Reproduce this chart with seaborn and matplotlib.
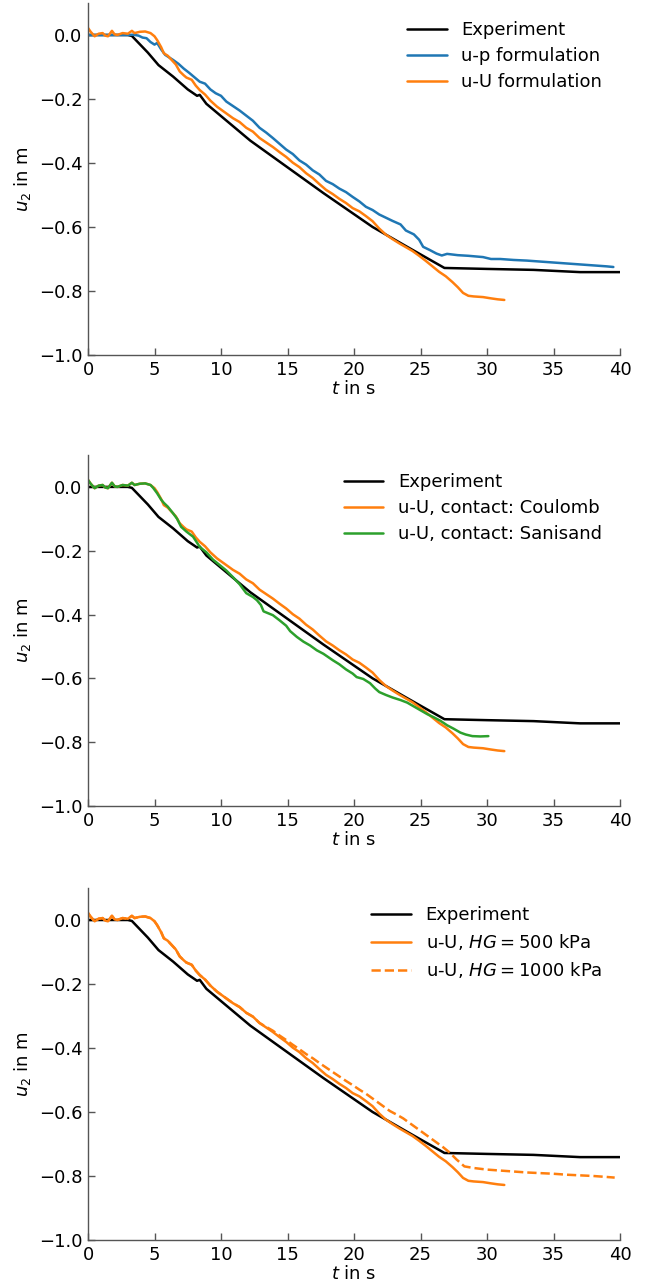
import matplotlib
matplotlib.use("Agg")
import matplotlib.pyplot as plt
import seaborn as sns
import pandas as pd

# ---------------- data ----------------
exp_t = [0.0, 3.0, 3.3, 4.5, 5.3, 6.4, 7.5, 8.2, 8.4, 8.9, 12.2, 17.7, 21.4, 24.0, 26.8, 30.0, 33.5, 37.0, 40.0]
exp_u = [0.0, 0.0, -0.003, -0.055, -0.094, -0.13, -0.17, -0.19, -0.187, -0.215, -0.33, -0.494, -0.60,
         -0.662, -0.728, -0.731, -0.734, -0.741, -0.741]

up_t = [0.0, 1.0, 2.0, 3.0, 3.4, 3.8, 4.1, 4.4, 4.7, 5.0, 5.2, 5.5, 5.8, 6.1, 6.4, 6.8, 7.2, 7.6, 8.0, 8.4,
        8.8, 9.2, 9.6, 10.0, 10.4, 10.9, 11.4, 11.9, 12.4, 12.9, 13.4, 13.9, 14.4, 14.9, 15.4, 15.9, 16.4,
        16.9, 17.4, 17.9, 18.4, 18.9, 19.4, 19.9, 20.4, 20.9, 21.4, 21.9, 22.4, 22.9, 23.5, 23.9, 24.5,
        24.9, 25.2, 25.7, 26.2, 26.6, 27.0, 27.8, 28.6, 29.7, 30.3, 31.0, 32.0, 33.0, 34.0, 35.0, 36.0,
        37.0, 38.0, 39.0, 39.5]
up_u = [0.0, 0.0, 0.0, 0.0, 0.001, -0.002, -0.008, -0.010, -0.022, -0.030, -0.025, -0.045, -0.062, -0.070,
        -0.078, -0.090, -0.105, -0.118, -0.132, -0.146, -0.152, -0.170, -0.182, -0.190, -0.208, -0.222,
        -0.236, -0.252, -0.268, -0.290, -0.305, -0.322, -0.340, -0.358, -0.372, -0.392, -0.405, -0.423,
        -0.436, -0.456, -0.466, -0.480, -0.491, -0.506, -0.520, -0.537, -0.547, -0.561, -0.571, -0.581,
        -0.592, -0.611, -0.623, -0.640, -0.662, -0.672, -0.683, -0.689, -0.684, -0.688, -0.690, -0.694,
        -0.700, -0.700, -0.703, -0.705, -0.708, -0.711, -0.714, -0.717, -0.720, -0.723, -0.725]

# shared noisy start of the u-U runs
start_t = [0.0, 0.2, 0.5, 0.8, 1.1, 1.3, 1.5, 1.8, 2.0, 2.2, 2.6, 3.0, 3.3, 3.5, 3.9, 4.3, 4.7]
start_u = [0.022, 0.010, -0.004, 0.004, 0.006, -0.002, -0.004, 0.013, 0.002, 0.0, 0.006, 0.004, 0.013,
           0.006, 0.010, 0.011, 0.006]

uU_mid_t = [5.0, 5.2, 5.5, 5.7, 6.0, 6.4, 6.6, 6.9, 7.2, 7.4, 7.8, 8.1, 8.4, 8.8, 9.2, 9.7, 10.1, 10.5,
            10.9, 11.4, 11.9, 12.4, 12.9]
uU_mid_u = [-0.004, -0.016, -0.038, -0.057, -0.065, -0.083, -0.092, -0.114, -0.126, -0.133, -0.140,
            -0.158, -0.172, -0.186, -0.205, -0.224, -0.236, -0.248, -0.260, -0.272, -0.290, -0.302, -0.322]

uU_end_t = [13.4, 13.9, 14.4, 14.9, 15.4, 15.9, 16.4, 16.9, 17.4, 17.9, 18.4, 18.9, 19.4, 19.9, 20.4,
            20.9, 21.4, 21.9, 22.4, 22.9, 23.4, 23.9, 24.4, 24.9, 25.4, 25.9, 26.4, 26.9, 27.4, 27.8,
            28.2, 28.6, 29.0, 29.7, 30.3, 30.8, 31.3]
uU_end_u = [-0.336, -0.350, -0.366, -0.381, -0.399, -0.413, -0.432, -0.447, -0.466, -0.484, -0.497,
            -0.512, -0.525, -0.541, -0.551, -0.566, -0.582, -0.605, -0.624, -0.638, -0.651, -0.663,
            -0.675, -0.690, -0.706, -0.723, -0.740, -0.754, -0.772, -0.788, -0.806, -0.815, -0.817,
            -0.819, -0.823, -0.826, -0.828]

san_t = [4.9, 5.2, 5.5, 5.7, 6.0, 6.4, 6.7, 7.0, 7.4, 7.9, 8.2, 8.4, 8.9, 9.4, 9.9, 10.4, 10.9, 11.4,
         11.9, 12.4, 12.7, 13.0, 13.2, 13.9, 14.4, 14.9, 15.2, 15.7, 16.2, 16.7, 17.2, 17.7, 18.4, 18.9,
         19.4, 19.9, 20.2, 20.7, 21.2, 21.6, 21.9, 22.4, 22.9, 23.5, 24.0, 24.5, 25.0, 25.5, 26.0, 26.5,
         27.0, 27.5, 28.0, 28.4, 28.9, 29.5, 30.1]
san_u = [-0.003, -0.020, -0.040, -0.050, -0.062, -0.083, -0.100, -0.125, -0.140, -0.156, -0.175, -0.188,
         -0.205, -0.228, -0.245, -0.262, -0.283, -0.305, -0.333, -0.345, -0.355, -0.370, -0.390, -0.402,
         -0.418, -0.435, -0.452, -0.470, -0.485, -0.497, -0.512, -0.523, -0.543, -0.556, -0.572, -0.585,
         -0.596, -0.602, -0.615, -0.632, -0.643, -0.652, -0.660, -0.668, -0.676, -0.688, -0.700, -0.712,
         -0.722, -0.733, -0.747, -0.758, -0.770, -0.776, -0.781, -0.782, -0.781]

hg_end_t = [13.4, 13.9, 14.4, 14.9, 15.4, 15.9, 16.4, 16.9, 17.4, 17.9, 18.4, 18.9, 19.4, 19.9, 20.4,
            20.9, 21.2, 21.7, 22.2, 22.7, 23.2, 23.7, 24.2, 24.7, 25.2, 25.7, 26.2, 26.7, 27.2, 27.7,
            28.3, 29.0, 30.0, 31.0, 32.0, 33.0, 34.0, 35.0, 36.0, 37.0, 38.0, 39.0, 39.6]
hg_end_u = [-0.334, -0.346, -0.361, -0.375, -0.390, -0.404, -0.419, -0.432, -0.447, -0.461, -0.475,
            -0.489, -0.503, -0.516, -0.530, -0.543, -0.552, -0.567, -0.582, -0.597, -0.608, -0.620,
            -0.635, -0.650, -0.665, -0.680, -0.695, -0.710, -0.727, -0.748, -0.770, -0.775, -0.780,
            -0.783, -0.786, -0.789, -0.791, -0.793, -0.796, -0.798, -0.800, -0.803, -0.805]

uU_t = start_t + uU_mid_t + uU_end_t
uU_u = start_u + uU_mid_u + uU_end_u
sanisand_t = start_t + san_t
sanisand_u = start_u + san_u
hg1000_t = start_t + uU_mid_t + hg_end_t
hg1000_u = start_u + uU_mid_u + hg_end_u

x_ticks = [0, 5, 10, 15, 20, 25, 30, 35, 40]
y_ticks = [0.0, -0.2, -0.4, -0.6, -0.8, -1.0]

BLACK = "black"
BLUE = "#1f77b4"
ORANGE = "#ff7f0e"
GREEN = "#2ca02c"

panels = [
    [("Experiment", exp_t, exp_u, BLACK, "-"),
     ("u-p formulation", up_t, up_u, BLUE, "-"),
     ("u-U formulation", uU_t, uU_u, ORANGE, "-")],
    [("Experiment", exp_t, exp_u, BLACK, "-"),
     ("u-U, contact: Coulomb", uU_t, uU_u, ORANGE, "-"),
     ("u-U, contact: Sanisand", sanisand_t, sanisand_u, GREEN, "-")],
    [("Experiment", exp_t, exp_u, BLACK, "-"),
     ("u-U, $HG = 500$ kPa", uU_t, uU_u, ORANGE, "-"),
     ("u-U, $HG = 1000$ kPa", hg1000_t, hg1000_u, ORANGE, "--")],
]

# ---------------- figure ----------------
sns.set_style("ticks")
plt.rcParams["font.family"] = ["DejaVu Sans"]
plt.rcParams["font.size"] = 13
plt.rcParams["mathtext.fontset"] = "dejavusans"
plt.rcParams["text.color"] = "black"
plt.rcParams["axes.labelcolor"] = "black"
plt.rcParams["xtick.labelcolor"] = "black"
plt.rcParams["ytick.labelcolor"] = "black"

W, H = 659, 1286
fig = plt.figure(figsize=(W / 100, H / 100), dpi=100)

left, right = 88, 620
tops = [3, 455, 888]
bottoms = [355, 806, 1240]

for k, series in enumerate(panels):
    ax = fig.add_axes([left / W, 1 - bottoms[k] / H, (right - left) / W, (bottoms[k] - tops[k]) / H])
    for label, tt, uu, col, ls in series:
        df = pd.DataFrame({"t": tt, "u": uu})
        sns.lineplot(data=df, x="t", y="u", ax=ax, color=col, linestyle=ls, linewidth=1.8,
                     label=label, sort=False, estimator=None)
    ax.set_xlim(0, 40)
    ax.set_ylim(-1.0, 0.1)
    ax.set_xticks(x_ticks)
    ax.set_yticks(y_ticks)
    ax.set_yticklabels([f"{v:.1f}".replace("-", "\u2212") for v in y_ticks])
    ax.set_xlabel("$t$ in s", fontsize=13, labelpad=1, color="black")
    ax.set_ylabel("$u_2$ in m", fontsize=13, labelpad=4, color="black")
    sns.despine(ax=ax)
    for s in ("left", "bottom"):
        ax.spines[s].set_color("#555555")
        ax.spines[s].set_linewidth(1.0)
    ax.tick_params(direction="in", length=5, width=1.0, color="#555555", labelcolor="black",
                   labelsize=13, pad=4)
    leg = ax.legend(loc="upper right", frameon=False, fontsize=13, handlelength=2.2,
                    labelspacing=0.45, borderaxespad=0.6)
    for txt in leg.get_texts():
        txt.set_color("black")

fig.savefig("out.png", dpi=100)
